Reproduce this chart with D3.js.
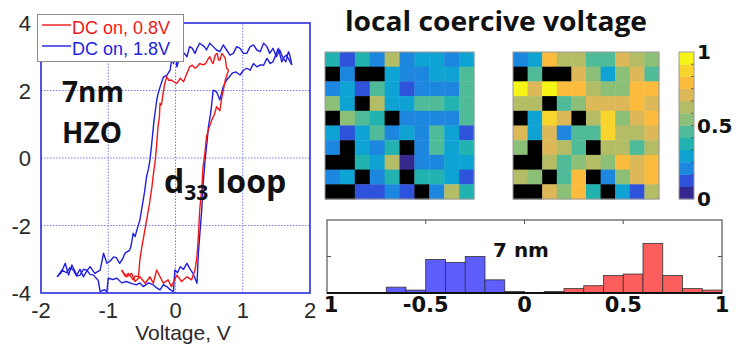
<!DOCTYPE html>
<html>
<head>
<meta charset="utf-8">
<script src="https://cdn.jsdelivr.net/npm/d3@7"></script>
<style>
  body { margin: 0; background: #fff; }
  svg { display: block; }
</style>
</head>
<body>
<svg id="chart" width="740" height="346"></svg>
<script>
// d33 loops, [voltage, d33]
const blueDown = [[1.73,2.76],[1.70,3.05],[1.68,3.15],[1.64,2.85],[1.60,2.95],[1.55,3.2],[1.50,3.0],[1.45,3.25],[1.40,3.1],[1.36,3.3],[1.31,3.4],[1.26,3.15],[1.21,3.2],[1.16,3.35],[1.11,3.3],[1.06,3.1],[1.01,3.1],[0.96,3.25],[0.91,3.3],[0.86,3.1],[0.81,3.05],[0.76,3.2],[0.71,3.35],[0.66,3.15],[0.61,3.2],[0.56,3.3],[0.51,3.4],[0.46,3.2],[0.43,3.3],[0.36,3.4],[0.32,3.25],[0.29,3.1],[0.25,3.25],[0.21,3.3],[0.17,3.0],[0.13,3.1],[0.09,3.2],[0.05,2.9],[0.02,2.7],[0.0,3.1],[-0.03,2.8],[-0.05,3.0],[-0.08,2.6],[-0.13,2.45],[-0.18,2.4],[-0.23,2.1],[-0.26,1.9],[-0.28,1.7],[-0.30,1.4],[-0.32,1.1],[-0.33,0.9],[-0.36,0.3],[-0.38,-0.06],[-0.40,-0.3],[-0.43,-0.55],[-0.46,-1.0],[-0.48,-1.25],[-0.51,-1.6],[-0.53,-1.84],[-0.57,-2.1],[-0.60,-2.33],[-0.63,-2.23],[-0.66,-2.6],[-0.68,-2.73],[-0.75,-2.82],[-0.79,-3.0],[-0.83,-3.12],[-0.88,-2.95],[-0.92,-2.93],[-0.97,-3.05],[-1.02,-3.12],[-1.07,-2.82],[-1.12,-3.32],[-1.2,-3.42],[-1.27,-3.22],[-1.32,-3.35],[-1.37,-3.52],[-1.42,-3.3],[-1.47,-3.47],[-1.54,-3.17],[-1.59,-3.47],[-1.64,-3.12],[-1.70,-3.4],[-1.76,-3.52]];
const blueUp = [[-1.76,-3.52],[-1.69,-3.32],[-1.62,-3.4],[-1.57,-3.25],[-1.52,-3.32],[-1.47,-3.5],[-1.42,-3.47],[-1.37,-3.3],[-1.32,-3.32],[-1.27,-3.45],[-1.22,-3.47],[-1.15,-3.62],[-1.12,-3.96],[-1.06,-3.9],[-1.02,-3.96],[-1.0,-3.56],[-0.93,-3.6],[-0.87,-3.56],[-0.80,-3.7],[-0.73,-3.66],[-0.65,-3.72],[-0.58,-3.76],[-0.53,-3.7],[-0.48,-3.81],[-0.40,-3.7],[-0.33,-3.76],[-0.28,-3.85],[-0.23,-3.91],[-0.18,-3.75],[-0.13,-3.81],[-0.08,-3.9],[-0.03,-3.96],[-0.01,-3.32],[0.03,-3.4],[0.07,-3.22],[0.12,-3.3],[0.17,-3.12],[0.22,-3.3],[0.26,-3.42],[0.32,-3.71],[0.34,-2.82],[0.36,-2.3],[0.39,-1.54],[0.41,-0.8],[0.44,-0.06],[0.47,0.5],[0.49,0.93],[0.52,1.3],[0.54,1.62],[0.56,2.01],[0.61,1.96],[0.66,1.72],[0.71,2.11],[0.76,2.31],[0.80,2.4],[0.84,2.51],[0.90,2.55],[0.96,2.46],[1.01,2.6],[1.06,2.66],[1.11,2.6],[1.16,2.8],[1.21,2.7],[1.26,2.76],[1.31,2.75],[1.36,2.95],[1.41,2.8],[1.45,2.85],[1.50,3.1],[1.53,3.25],[1.58,2.85],[1.62,3.0],[1.65,3.05],[1.69,2.9],[1.73,2.76]];
const redDown = [[0.79,2.61],[0.76,2.66],[0.74,2.95],[0.71,3.05],[0.69,3.1],[0.66,2.9],[0.64,2.9],[0.62,3.1],[0.59,3.05],[0.56,2.8],[0.54,2.85],[0.51,3.0],[0.49,2.95],[0.45,2.8],[0.41,2.76],[0.36,2.8],[0.32,2.7],[0.29,2.66],[0.25,2.75],[0.21,2.7],[0.17,2.51],[0.12,2.26],[0.07,2.36],[0.02,2.21],[-0.02,2.25],[-0.06,2.31],[-0.10,2.3],[-0.13,2.41],[-0.16,2.2],[-0.18,1.96],[-0.21,1.57],[-0.23,1.62],[-0.24,1.2],[-0.26,0.93],[-0.28,0.4],[-0.30,-0.06],[-0.33,-0.5],[-0.35,-0.85],[-0.39,-1.4],[-0.43,-1.84],[-0.47,-2.3],[-0.50,-2.63],[-0.53,-3.02],[-0.55,-3.52],[-0.60,-3.5],[-0.63,-3.61],[-0.70,-3.42],[-0.75,-3.5],[-0.80,-3.32]];
const redUp = [[-0.80,-3.32],[-0.73,-3.52],[-0.65,-3.42],[-0.60,-3.66],[-0.53,-3.52],[-0.45,-3.71],[-0.38,-3.52],[-0.33,-3.71],[-0.28,-3.32],[-0.23,-3.52],[-0.18,-3.71],[-0.11,-3.61],[-0.06,-3.81],[0.02,-3.47],[0.09,-3.66],[0.17,-3.52],[0.24,-3.61],[0.29,-3.32],[0.32,-2.9],[0.34,-2.33],[0.36,-1.54],[0.39,-0.9],[0.41,-0.26],[0.44,0.2],[0.46,0.63],[0.50,0.9],[0.54,1.13],[0.58,1.3],[0.61,1.52],[0.66,1.4],[0.69,1.82],[0.72,2.1],[0.74,2.31],[0.79,2.61]];
const loopXTicks = [-2, -1, 0, 1, 2];
const loopYTicks = [-4, -2, 0, 2, 4];
const legendLabels = ['DC on, 0.8V', 'DC on, 1.8V'];

// local coercive voltage maps, normalised 0..1 (null = black / no switching)
const mapNeg = [
  [0.38,0.12,0.38,0.21,0.62,0.21,0.29,0.29,0.21,0.29],
  [null,0.21,null,null,0.29,0.21,0.21,0.29,0.29,0.46],
  [0.21,0.29,0.12,0.46,0.29,0.12,0.21,0.21,0.21,0.46],
  [0.54,0.29,null,0.62,0.29,0.29,0.46,0.46,0.38,0.46],
  [null,0.54,0.46,0.38,null,0.21,0.21,0.21,0.21,0.46],
  [0.29,0.12,0.29,0.46,0.21,0.29,0.21,0.46,0.29,0.12],
  [0.21,null,0.29,0.21,0.38,null,0.21,0.46,0.29,0.38],
  [null,null,0.38,0.29,0.62,0.04,0.21,0.21,0.29,0.29],
  [0.21,0.29,null,0.21,0.38,null,0.38,0.38,0.29,0.12],
  [null,null,0.12,0.12,0.21,0.12,null,0.21,0.62,0.38]
];
const mapPos = [
  [0.21,0.29,0.79,0.62,0.62,0.46,0.46,0.71,0.62,0.54],
  [null,0.46,null,null,0.71,0.54,0.29,0.54,0.71,0.46],
  [0.96,0.71,0.96,0.79,0.79,0.62,0.54,0.54,0.79,0.79],
  [0.62,0.62,null,0.46,0.54,0.71,0.71,0.71,0.79,0.71],
  [null,0.29,0.88,0.71,null,0.62,0.88,0.54,0.71,0.79],
  [0.71,0.29,0.71,0.21,0.46,0.46,0.88,0.62,0.62,0.71],
  [0.54,null,0.71,0.62,0.46,null,0.62,0.62,0.46,0.62],
  [null,null,0.62,0.46,0.54,0.62,0.54,0.79,0.71,0.79],
  [0.62,0.54,null,0.46,0.79,null,0.21,0.54,0.71,0.79],
  [null,null,0.71,0.54,0.79,0.38,null,0.29,0.12,0.62]
];
const colorbarTicks = [0, 0.5, 1];
// 12-step parula-like colormap, bottom to top
const parulaLevels = ['#35288f','#2f52da','#1d86de','#0ea3d2','#22b3b0','#50bb98','#8cbf78','#b4bd66','#dcb858','#fbbb3c','#f8d52c','#f6f515'];

// histogram of coercive voltages (counts, bin width 0.1)
const negBinStart = [-0.7,-0.6,-0.5,-0.4,-0.3,-0.2,-0.1];
const negCounts = [4,2,23,21,25,9,1];
const posBinStart = [0.1,0.2,0.3,0.4,0.5,0.6,0.7,0.8,0.9];
const posCounts = [1,3,5,12,13,34,12,3,2];
const histXTicks = [-1, -0.5, 0, 0.5, 1];
const histXLabels = ['1', '-0.5', '0', '0.5', '1'];
const binWidth = 0.1;

const svg = d3.select('#chart');
const calibri = "'Open Sans', 'Lato', sans-serif";
const verdana = "'DejaVu Sans', Verdana, sans-serif";
const tickFont = "'Liberation Sans', Arial, sans-serif";

// ---------- hysteresis loop ----------
const x = d3.scaleLinear().domain([-2, 2]).range([41, 310]);
const y = d3.scaleLinear().domain([-4, 4]).range([293, 23]);
const axisBlue = '#2b2bdc';

const grid = svg.append('g');
loopXTicks.slice(1, -1).forEach(t => {
  grid.append('line')
    .attr('x1', x(t)).attr('x2', x(t)).attr('y1', y(-4)).attr('y2', y(4))
    .attr('stroke', '#7a7af0').attr('stroke-width', 1).attr('stroke-dasharray', '1.5,1.5');
});
loopYTicks.slice(1, -1).forEach(t => {
  grid.append('line')
    .attr('x1', x(-2)).attr('x2', x(2)).attr('y1', y(t)).attr('y2', y(t))
    .attr('stroke', '#7a7af0').attr('stroke-width', 1).attr('stroke-dasharray', '1.5,1.5');
});

const line = d3.line().x(d => x(d[0])).y(d => y(d[1]));
[[blueDown, '#1f1fe0'], [blueUp, '#1f1fe0'], [redDown, '#f01818'], [redUp, '#f01818']].forEach(([data, c]) => {
  svg.append('path')
    .datum(data)
    .attr('fill', 'none')
    .attr('stroke', c)
    .attr('stroke-width', 1.4)
    .attr('stroke-linejoin', 'round')
    .attr('d', line);
});

svg.append('rect')
  .attr('x', x(-2)).attr('y', y(4))
  .attr('width', x(2) - x(-2)).attr('height', y(-4) - y(4))
  .attr('fill', 'none').attr('stroke', axisBlue).attr('stroke-width', 1.6);

svg.append('g').selectAll('text').data(loopXTicks).join('text')
  .attr('x', d => x(d)).attr('y', 318)
  .attr('text-anchor', 'middle')
  .style('font-family', tickFont).style('font-size', '22px').attr('fill', '#2a2a2a')
  .text(d => d);
svg.append('g').selectAll('text').data(loopYTicks).join('text')
  .attr('x', 31).attr('y', d => y(d) + 8)
  .attr('text-anchor', 'end')
  .style('font-family', tickFont).style('font-size', '22px').attr('fill', '#2a2a2a')
  .text(d => d);
svg.append('text')
  .attr('x', 183).attr('y', 340)
  .attr('text-anchor', 'middle')
  .style('font-family', tickFont).style('font-size', '21px').attr('fill', '#2a2a2a')
  .text('Voltage, V');

// legend
const legend = svg.append('g');
legend.append('rect')
  .attr('x', 37.5).attr('y', 14.5).attr('width', 146).attr('height', 47)
  .attr('fill', '#fff').attr('stroke', '#8a8a8a').attr('stroke-width', 1);
[['#f01818', 25, legendLabels[0]], ['#1f1fe0', 46, legendLabels[1]]].forEach(([c, ly, lab]) => {
  legend.append('line').attr('x1', 42).attr('x2', 71).attr('y1', ly).attr('y2', ly)
    .attr('stroke', c).attr('stroke-width', 1.4);
  legend.append('text').attr('x', 72).attr('y', ly + 9)
    .style('font-family', tickFont).style('font-size', '18px').attr('fill', c)
    .text(lab);
});

// annotations
const ann = svg.append('g').style('font-family', calibri).style('font-weight', 'bold').attr('fill', '#111');
ann.append('text').attr('x', 62).attr('y', 102).style('font-size', '28px').text('7nm');
ann.append('text').attr('x', 62).attr('y', 143).style('font-size', '28px').text('HZO');
const d33 = ann.append('text').attr('x', 164).attr('y', 193).style('font-size', '32px');
d33.append('tspan').text('d');
d33.append('tspan').attr('dy', 7).style('font-size', '21px').text('33');
d33.append('tspan').attr('dy', -7).text(' loop');

// ---------- coercive voltage maps ----------
const nLevels = parulaLevels.length;
const levelColor = v => parulaLevels[Math.min(nLevels - 1, Math.floor(v * nLevels))];

svg.append('text')
  .attr('x', 345).attr('y', 31)
  .attr('textLength', 302).attr('lengthAdjust', 'spacingAndGlyphs')
  .style('font-family', calibri).style('font-weight', 'bold').style('font-size', '26px')
  .attr('fill', '#111')
  .text('local coercive voltage');

function drawMap(data, x0, x1, y0, y1) {
  const cx = d3.scaleBand().domain(d3.range(10)).range([x0, x1]);
  const cy = d3.scaleBand().domain(d3.range(10)).range([y0, y1]);
  const g = svg.append('g');
  data.forEach((row, r) => {
    row.forEach((v, c) => {
      g.append('rect')
        .attr('x', cx(c)).attr('y', cy(r))
        .attr('width', cx.bandwidth() + 0.4).attr('height', cy.bandwidth() + 0.4)
        .attr('fill', v === null ? '#000' : levelColor(v));
    });
  });
  g.append('rect')
    .attr('x', x0).attr('y', y0).attr('width', x1 - x0).attr('height', y1 - y0)
    .attr('fill', 'none').attr('stroke', '#9a9a9a').attr('stroke-width', 1);
}
drawMap(mapNeg, 325, 474, 52, 199);
drawMap(mapPos, 513, 659, 52, 199);

// colorbar
const cbY = d3.scaleLinear().domain([0, 1]).range([199, 52]);
const cb = svg.append('g');
parulaLevels.forEach((c, k) => {
  cb.append('rect')
    .attr('x', 679).attr('width', 15)
    .attr('y', cbY((k + 1) / nLevels)).attr('height', cbY(k / nLevels) - cbY((k + 1) / nLevels) + 0.3)
    .attr('fill', c);
});
d3.range(1, nLevels).forEach(k => {
  cb.append('line').attr('x1', 691).attr('x2', 694)
    .attr('y1', cbY(k / nLevels)).attr('y2', cbY(k / nLevels))
    .attr('stroke', '#444').attr('stroke-width', 0.8);
});
cb.append('rect').attr('x', 679).attr('y', 52).attr('width', 15).attr('height', 147)
  .attr('fill', 'none').attr('stroke', '#9a9a9a').attr('stroke-width', 1);
cb.selectAll('text.cbt').data(colorbarTicks).join('text')
  .attr('class', 'cbt')
  .attr('x', 697).attr('y', d => cbY(d) + 7)
  .style('font-family', verdana).style('font-weight', 'bold').style('font-size', '20px')
  .attr('fill', '#111')
  .text(d => d);

// ---------- histogram ----------
const hx = d3.scaleLinear().domain([-1, 1]).range([327, 722]);
const hy = d3.scaleLinear().domain([0, 50]).range([293, 220]);
const hist = svg.append('g');
const bars = negBinStart.map((b, i) => ({ b, n: negCounts[i], c: '#5e5efc' }))
  .concat(posBinStart.map((b, i) => ({ b, n: posCounts[i], c: '#fc5e5e' })));
hist.selectAll('rect.bar').data(bars).join('rect')
  .attr('class', 'bar')
  .attr('x', d => hx(d.b)).attr('width', d => hx(d.b + binWidth) - hx(d.b))
  .attr('y', d => hy(d.n)).attr('height', d => hy(0) - hy(d.n))
  .attr('fill', d => d.c).attr('stroke', '#333').attr('stroke-width', 0.8);

hist.append('rect')
  .attr('x', hx(-1)).attr('y', hy(50)).attr('width', hx(1) - hx(-1)).attr('height', hy(0) - hy(50))
  .attr('fill', 'none').attr('stroke', '#555').attr('stroke-width', 1.2);
hist.append('line').attr('x1', hx(-1)).attr('x2', hx(1)).attr('y1', hy(0)).attr('y2', hy(0))
  .attr('stroke', '#111').attr('stroke-width', 2);
[-0.5, 0, 0.5].forEach(t => {
  hist.append('line').attr('x1', hx(t)).attr('x2', hx(t)).attr('y1', hy(50)).attr('y2', hy(50) + 4)
    .attr('stroke', '#555').attr('stroke-width', 1);
});
[hx(-1), hx(1)].forEach((px, i) => {
  hist.append('line').attr('x1', px).attr('x2', px + (i ? -4 : 4)).attr('y1', hy(25)).attr('y2', hy(25))
    .attr('stroke', '#555').attr('stroke-width', 1);
});
hist.selectAll('text.hxt').data(histXTicks).join('text')
  .attr('class', 'hxt')
  .attr('x', (d, i) => hx(d) + (i === 0 ? 4 : 0)).attr('y', 312)
  .attr('text-anchor', 'middle')
  .style('font-family', verdana).style('font-weight', 'bold').style('font-size', '21px')
  .attr('fill', '#111')
  .text((d, i) => histXLabels[i]);
hist.append('text')
  .attr('x', 493).attr('y', 257)
  .style('font-family', verdana).style('font-weight', 'bold').style('font-size', '20px')
  .attr('fill', '#111')
  .text('7 nm');
</script>
</body>
</html>
